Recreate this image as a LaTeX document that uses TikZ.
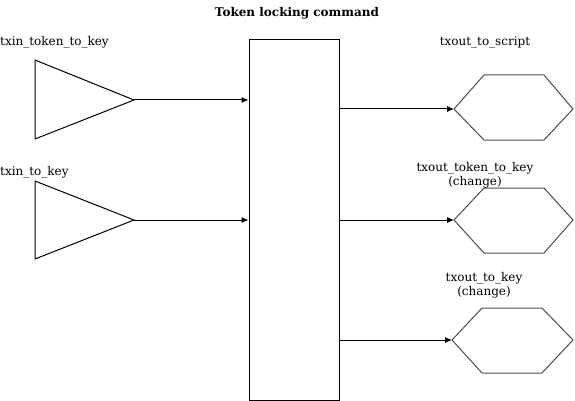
\documentclass[tikz,border=0pt]{standalone}
\usepackage{fontspec}
\setmainfont{DejaVu Serif}
\usetikzlibrary{arrows.meta,positioning}

\begin{document}
\begin{tikzpicture}[x=1pt,y=-1pt,>={Latex[length=7pt,width=6pt]},
    lbl/.style={font=\fontsize{12}{14}\selectfont,inner sep=0pt,align=center},
    shp/.style={line width=1pt},
    hexshp/.style={line width=1pt,black!70}]
  \useasboundingbox (0,0) rectangle (575,401);
  \node[lbl,font=\bfseries\fontsize{12}{14}\selectfont] (title) at (297,13) {Token locking command};
  % command box
  \node[draw,shp,minimum width=90pt,minimum height=360pt,inner sep=0pt] (cmd) at (294,220) {};
  % inputs
  \draw[shp] (35,60) -- (134,100) coordinate (tokin) -- (35,139) -- cycle;
  \draw[shp] (35,181) -- (134,220) coordinate (keyin) -- (35,259) -- cycle;
  \node[lbl,anchor=west] (tokinlbl) at (0,42) {txin\_token\_to\_key};
  \node[lbl,anchor=west] (keyinlbl) at (0,172) {txin\_to\_key};
  % outputs
  \draw[hexshp] (454,109) coordinate (scrout) -- (484,75) -- (544,75) -- (573,109)
    -- (544,140) -- (484,140) -- cycle;
  \draw[hexshp] (454,220) coordinate (tokout) -- (484,188) -- (544,188) -- (573,220)
    -- (544,253) -- (484,253) -- cycle;
  \draw[hexshp] (452,340) coordinate (keyout) -- (482,308) -- (542,308) -- (573,340)
    -- (542,373) -- (482,373) -- cycle;
  \node[lbl] (scroutlbl) at (485,43) {txout\_to\_script};
  \node[lbl] (tokoutlbl) at (475,175) {txout\_token\_to\_key\\(change)};
  \node[lbl] (keyoutlbl) at (484,285.5) {txout\_to\_key\\(change)};
  % connectors
  \draw[->,shp] (tokin) -- (tokin -| cmd.west);
  \draw[->,shp] (keyin) -- (keyin -| cmd.west);
  \draw[->,shp] (cmd.east |- scrout) -- (scrout);
  \draw[->,shp] (cmd.east |- tokout) -- (tokout);
  \draw[->,shp] (cmd.east |- keyout) -- (keyout);
\end{tikzpicture}
\end{document}
